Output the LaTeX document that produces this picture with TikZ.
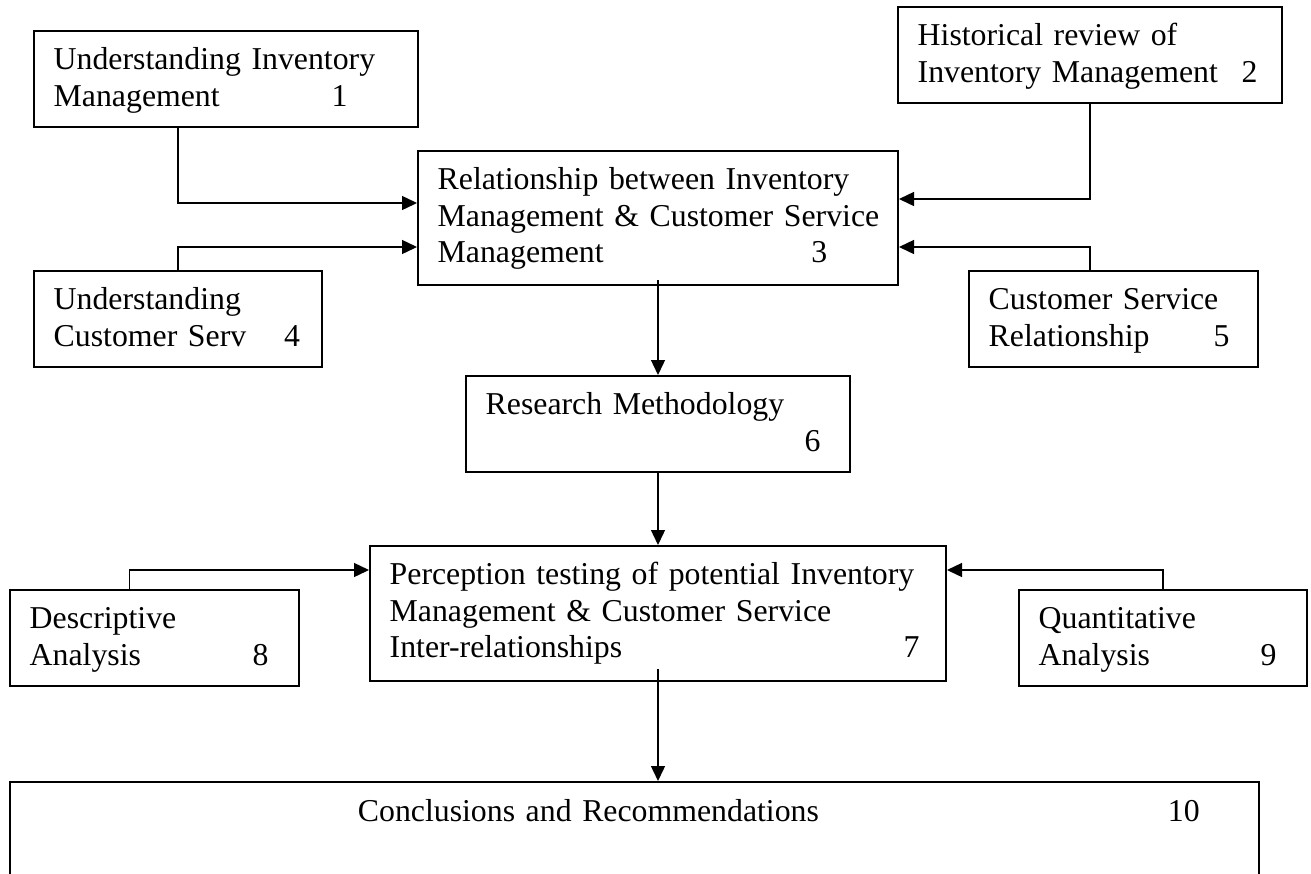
\documentclass[tikz,border=0pt]{standalone}
\usepackage{fontspec}
\setmainfont{Liberation Serif}
\usetikzlibrary{arrows.meta, positioning}
\newcommand{\stagefont}{\fontsize{31.8}{36.7}\selectfont}
\tikzstyle{stage} = [draw, rectangle, line width=2pt, anchor=north west,
   inner sep=0pt, minimum width=384pt, minimum height=96pt]
\tikzstyle{stagetext} = [inner sep=0pt, anchor=base west, text width=900pt,
   align=left, font=\stagefont]
\tikzstyle{link} = [line width=1.4pt, -{Triangle[length=15pt,width=14pt]}]

\begin{document}
\begin{tikzpicture}[x=1pt, y=-1pt]
  \useasboundingbox (0,0) rectangle (1311,873);
  \clip (0,0) rectangle (1311,873);
  \node[stage] (b1) at (33,30) {};
  \node[stage] (b2) at (897,6) {};
  \node[stage, minimum width=480pt, minimum height=134pt] (b3) at (417,150) {};
  \node[stage, minimum width=288pt] (b4) at (33,270) {};
  \node[stage, minimum width=289pt] (b5) at (968,270) {};
  \node[stage, below = 89pt of b3] (b6) {};
  \node[stage, minimum width=576pt, minimum height=135pt, below = 72pt of b6] (b7) {};
  \node[stage, minimum width=289pt] (b8) at (9,589) {};
  \node[stage, minimum width=288pt] (b9) at (1018,589) {};
  \node[stage, minimum width=1249pt, minimum height=200pt] (b10) at (9,781) {};
  % texts
  \node[stagetext] (t1) at ([shift={(20.5,39.5)}]b1.north west)
    {Understanding Inventory\\\makebox[278pt][l]{Management}1};
  \node[stagetext] (t2) at ([shift={(20.5,39.5)}]b2.north west)
    {Historical review of\\\makebox[324pt][l]{Inventory Management}2};
  \node[stagetext] (t3) at ([shift={(20.5,39.5)}]b3.north west)
    {Relationship between Inventory\\Management \& Customer Service\\\makebox[373.7pt][l]{Management}3};
  \node[stagetext] (t4) at ([shift={(20.5,39.5)}]b4.north west)
    {Understanding\\\makebox[230.4pt][l]{Customer Serv}4};
  \node[stagetext] (t5) at ([shift={(20.5,39.5)}]b5.north west)
    {Customer Service\\\makebox[225pt][l]{Relationship}5};
  \node[stagetext] (t6) at ([shift={(20.5,39.5)}]b6.north west)
    {Research Methodology\\\makebox[319pt][l]{}6};
  \node[stagetext] (t7) at ([shift={(20.5,39.5)}]b7.north west)
    {Perception testing of potential Inventory\\Management \& Customer Service\\\makebox[514pt][l]{Inter-relationships}7};
  \node[stagetext] (t8) at ([shift={(20.5,39.5)}]b8.north west)
    {Descriptive\\\makebox[223pt][l]{Analysis}8};
  \node[stagetext] (t9) at ([shift={(20.5,39.5)}]b9.north west)
    {Quantitative\\\makebox[222pt][l]{Analysis}9};
  \node[stagetext] (t10) at ([shift={(348.7,40.7)}]b10.north west)
    {\makebox[810pt][l]{Conclusions and Recommendations}10};
  % connectors
  \draw[link] (b1.south -| b4.north) |- ([yshift=15pt]b3.west);
  \draw[link] (b4.north) |- ([yshift=-29pt]b3.west);
  \draw[link] (b2.south) |- ([yshift=19pt]b3.east);
  \draw[link] (b5.north -| b2.south) |- ([yshift=-29pt]b3.east);
  \draw[link] ([yshift=6pt]b3.south) -- (b6.north);
  \draw[link] (b6.south) -- (b7.north);
  \draw[link] ([xshift=-25pt]b8.north) |- ([yshift=43.5pt]b7.west);
  \draw[link] (b9.north) |- ([yshift=43.5pt]b7.east);
  \draw[link] ([yshift=13pt]b7.south) -- (b7.south |- b10.north);
\end{tikzpicture}
\end{document}
